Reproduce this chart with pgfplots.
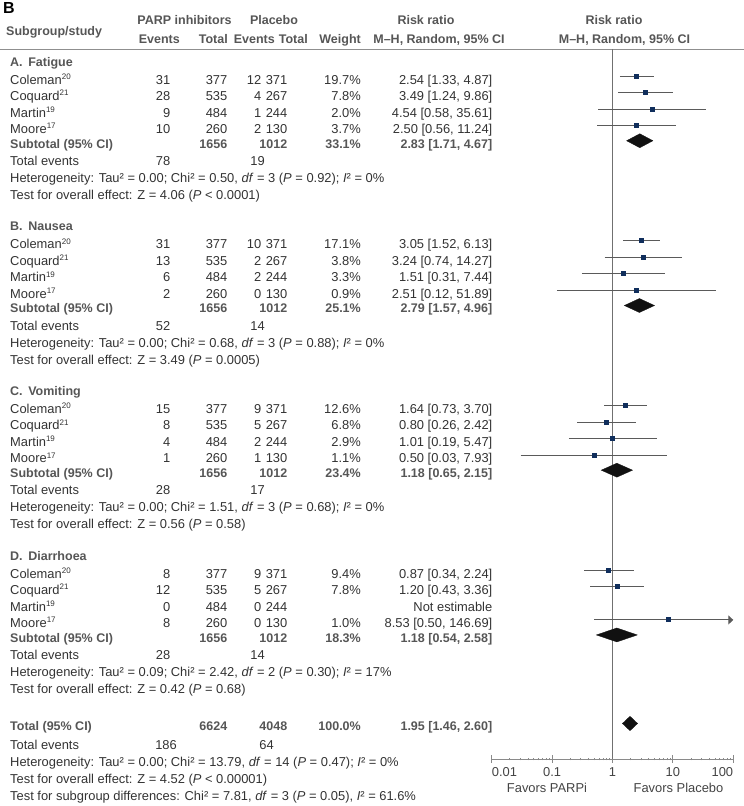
\documentclass[border=0pt]{standalone}
\usepackage{pgfplots}
\pgfplotsset{compat=1.18}
\usepackage{pgfplotstable}
\usepackage{fontspec}
\setmainfont{Liberation Sans}
\usetikzlibrary{arrows.meta}
\definecolor{txt}{HTML}{333333}
\definecolor{hdr}{HTML}{565656}
\definecolor{navy}{HTML}{102E5C}
\definecolor{cil}{HTML}{5A5A5A}
\definecolor{vline}{HTML}{707070}
\definecolor{axg}{HTML}{8A8A8A}
\definecolor{sepg}{HTML}{8F8F8F}
\definecolor{dia}{HTML}{111111}
\definecolor{tick}{HTML}{444444}

\newcommand\sups[1]{\raisebox{0.36em}{\fontsize{8}{8}\selectfont #1}}
\newcommand\TL[3]{\node[anchor=base west,inner sep=0pt] at (#1,#2+4.6) {#3};}
\newcommand\TR[3]{\node[anchor=base east,inner sep=0pt] at (#1,#2+4.6) {#3};}
\newcommand\TC[3]{\node[anchor=base,inner sep=0pt] at (#1,#2+4.6) {#3};}
\newcommand\HB{\color{hdr}\fontsize{12.5}{15}\selectfont\bfseries}
\newcommand\Row[9]{\TL{10}{#1}{#2\sups{#3}}\TR{170.5}{#1}{#4}\TR{227.5}{#1}{#5}\TR{261.5}{#1}{#6}\TR{287.5}{#1}{#7}\TR{361}{#1}{#8}\TR{492.5}{#1}{#9}}
\newcommand\Sub[6]{\TL{10}{#1}{\HB #6}\TR{227.5}{#1}{\HB #2}\TR{287.5}{#1}{\HB #3}\TR{361}{#1}{\HB #4}\TR{492.5}{#1}{\HB #5}}
\newcommand\TE[3]{\TL{10}{#1}{Total events}\TR{170.5}{#1}{#2}\TR{265}{#1}{#3}}
\newcommand\Het[6]{\TL{10}{#1}{Heterogeneity: Tau² = #2; Chi² = #3, \textit{df} = #4 (\textit{P} = #5); \textit{I}² = #6}}
\newcommand\Ovr[2]{\TL{10}{#1}{Test for overall effect: Z = #2}}

\pgfplotstableread{
y est ms
-76.5 2.54 3.2
-93 3.49 2.0
-109.5 4.54 1.25
-126 2.50 1.45
-241.2 3.05 3.0
-257.7 3.24 1.45
-274.2 1.51 1.35
-290.7 2.51 1.15
-405.8 1.64 2.55
-422.3 0.80 1.9
-438.8 1.01 1.25
-455.3 0.50 1.15
-570.5 0.87 2.2
-587 1.20 2.0
-620 8.53 1.15
}\studies

\pgfplotstableread{
x y
1.33 -76.5
4.87 -76.5
nan nan
1.24 -93
9.86 -93
nan nan
0.58 -109.5
35.61 -109.5
nan nan
0.56 -126
11.24 -126
nan nan
1.52 -241.2
6.13 -241.2
nan nan
0.74 -257.7
14.27 -257.7
nan nan
0.31 -274.2
7.44 -274.2
nan nan
0.12 -290.7
51.89 -290.7
nan nan
0.73 -405.8
3.70 -405.8
nan nan
0.26 -422.3
2.42 -422.3
nan nan
0.19 -438.8
5.47 -438.8
nan nan
0.03 -455.3
7.93 -455.3
nan nan
0.34 -570.5
2.24 -570.5
nan nan
0.43 -587
3.36 -587
}\cilines

\begin{document}
\fontsize{12.9}{15}\selectfont
\begin{tikzpicture}
\path[use as bounding box] (0,0) rectangle (744pt,-806pt);
\begin{scope}[x=1pt,y=-1pt,every node/.style={text=txt}]
% header
\node[anchor=base west,inner sep=0pt,text=black] at (3,13.4) {\fontsize{16}{16}\selectfont\bfseries B};
\TL{6}{30.5}{\HB Subgroup/study}
\TC{184.5}{20}{\HB PARP inhibitors}
\TC{274}{20}{\HB Placebo}
\TR{180}{39}{\HB Events}
\TR{228}{39}{\HB Total}
\TR{275}{39}{\HB Events}
\TR{308}{39}{\HB Total}
\TR{361}{39}{\HB Weight}
\TC{426}{20}{\HB Risk ratio}
\TC{439}{39}{\HB M–H, Random, 95\% CI}
\TC{614}{20}{\HB Risk ratio}
\TC{624.5}{39}{\HB M–H, Random, 95\% CI}
\draw[sepg,line width=1.5pt] (0,49.3) -- (744,49.3);
% A
\TL{10}{61.5}{\HB A.\hspace{0.45em}Fatigue}
\Row{79.5}{Coleman}{20}{31}{377}{12}{371}{19.7\%}{2.54 [1.33, 4.87]}
\Row{96}{Coquard}{21}{28}{535}{4}{267}{7.8\%}{3.49 [1.24, 9.86]}
\Row{112.5}{Martin}{19}{9}{484}{1}{244}{2.0\%}{4.54 [0.58, 35.61]}
\Row{129}{Moore}{17}{10}{260}{2}{130}{3.7\%}{2.50 [0.56, 11.24]}
\Sub{143.5}{1656}{1012}{33.1\%}{2.83 [1.71, 4.67]}{Subtotal (95\% CI)}
\TE{161}{78}{19}
\Het{178}{0.00}{0.50}{3}{0.92}{0\%}
\Ovr{195}{4.06 (\textit{P} < 0.0001)}
% B
\TL{10}{226.2}{\HB B.\hspace{0.45em}Nausea}
\Row{244.2}{Coleman}{20}{31}{377}{10}{371}{17.1\%}{3.05 [1.52, 6.13]}
\Row{260.7}{Coquard}{21}{13}{535}{2}{267}{3.8\%}{3.24 [0.74, 14.27]}
\Row{277.2}{Martin}{19}{6}{484}{2}{244}{3.3\%}{1.51 [0.31, 7.44]}
\Row{293.7}{Moore}{17}{2}{260}{0}{130}{0.9\%}{2.51 [0.12, 51.89]}
\Sub{308.2}{1656}{1012}{25.1\%}{2.79 [1.57, 4.96]}{Subtotal (95\% CI)}
\TE{325.7}{52}{14}
\Het{342.7}{0.00}{0.68}{3}{0.88}{0\%}
\Ovr{359.7}{3.49 (\textit{P} = 0.0005)}
% C
\TL{10}{390.8}{\HB C.\hspace{0.45em}Vomiting}
\Row{408.8}{Coleman}{20}{15}{377}{9}{371}{12.6\%}{1.64 [0.73, 3.70]}
\Row{425.3}{Coquard}{21}{8}{535}{5}{267}{6.8\%}{0.80 [0.26, 2.42]}
\Row{441.8}{Martin}{19}{4}{484}{2}{244}{2.9\%}{1.01 [0.19, 5.47]}
\Row{458.3}{Moore}{17}{1}{260}{1}{130}{1.1\%}{0.50 [0.03, 7.93]}
\Sub{472.8}{1656}{1012}{23.4\%}{1.18 [0.65, 2.15]}{Subtotal (95\% CI)}
\TE{490.3}{28}{17}
\Het{507.3}{0.00}{1.51}{3}{0.68}{0\%}
\Ovr{524.3}{0.56 (\textit{P} = 0.58)}
% D
\TL{10}{555.5}{\HB D.\hspace{0.45em}Diarrhoea}
\Row{573.5}{Coleman}{20}{8}{377}{9}{371}{9.4\%}{0.87 [0.34, 2.24]}
\Row{590}{Coquard}{21}{12}{535}{5}{267}{7.8\%}{1.20 [0.43, 3.36]}
\Row{606.5}{Martin}{19}{0}{484}{0}{244}{}{Not estimable}
\Row{623}{Moore}{17}{8}{260}{0}{130}{1.0\%}{8.53 [0.50, 146.69]}
\Sub{637.5}{1656}{1012}{18.3\%}{1.18 [0.54, 2.58]}{Subtotal (95\% CI)}
\TE{655}{28}{14}
\Het{672}{0.09}{2.42}{2}{0.30}{17\%}
\Ovr{689}{0.42 (\textit{P} = 0.68)}
% Total
\Sub{726}{6624}{4048}{100.0\%}{1.95 [1.46, 2.60]}{Total (95\% CI)}
\TL{10}{745}{Total events}\TR{177}{745}{186}\TR{274}{745}{64}
\Het{762}{0.00}{13.79}{14}{0.47}{0\%}
\Ovr{779}{4.52 (\textit{P} < 0.00001)}
\TL{10}{796}{Test for subgroup differences: Chi² = 7.81, \textit{df} = 3 (\textit{P} = 0.05), \textit{I}² = 61.6\%}
% axis labels
\TC{547}{788.3}{\color{tick}Favors PARPi}
\TC{678.5}{788.3}{\color{tick}Favors Placebo}
\end{scope}

\begin{axis}[
  at={(491.7pt,-759pt)}, anchor=south west,
  scale only axis, width=241.6pt, height=710pt,
  xmode=log, xmin=0.01, xmax=100, ymin=-759, ymax=-49.3,
  axis x line=bottom, hide y axis,
  x axis line style={-, draw=axg, line width=1pt},
  xtick={0.01,0.1,1,10,100}, xticklabels=\empty, minor xtick={},
  xtick align=center, major tick length=7.4pt,
  every tick/.style={draw=axg, line width=1pt},
  clip=false, unbounded coords=jump,
]
\addplot[vline, line width=1pt] coordinates {(1,-49.3) (1,-759)};
\addplot[cil, line width=1pt] table[x=x,y=y] \cilines;
\addplot[cil, line width=1pt, -{Triangle[length=5pt,width=9pt]}] coordinates {(0.50,-620) (100,-620)};
\addplot[scatter, only marks, mark=square*,
  visualization depends on={\thisrow{ms} \as \perpointmarksize},
  scatter/@pre marker code/.append style={/tikz/mark size=\perpointmarksize},
  scatter/use mapped color={draw=navy, fill=navy},
  mark options={line width=0pt}] table[x=est,y=y] \studies;
% diamonds
\addplot[fill=dia, draw=dia, line width=0.3pt] coordinates {(1.71,-141) (2.83,-134) (4.67,-141) (2.83,-148)} -- cycle;
\addplot[fill=dia, draw=dia, line width=0.3pt] coordinates {(1.57,-305.7) (2.79,-298.7) (4.96,-305.7) (2.79,-312.7)} -- cycle;
\addplot[fill=dia, draw=dia, line width=0.3pt] coordinates {(0.65,-470.3) (1.18,-463.3) (2.15,-470.3) (1.18,-477.3)} -- cycle;
\addplot[fill=dia, draw=dia, line width=0.3pt] coordinates {(0.54,-635) (1.18,-628) (2.58,-635) (1.18,-642)} -- cycle;
\addplot[fill=dia, draw=dia, line width=0.3pt] coordinates {(1.46,-723.5) (1.95,-716.3) (2.60,-723.5) (1.95,-730.7)} -- cycle;
% tick labels
\node[anchor=base west,inner sep=0pt,text=tick] at (axis cs:0.01,-776.3) {0.01};
\node[anchor=base,inner sep=0pt,text=tick] at (axis cs:0.1,-776.3) {0.1};
\node[anchor=base,inner sep=0pt,text=tick] at (axis cs:1,-776.3) {1};
\node[anchor=base,inner sep=0pt,text=tick] at (axis cs:10,-776.3) {10};
\node[anchor=base east,inner sep=0pt,text=tick] at (axis cs:100,-776.3) {100};
\end{axis}
\end{tikzpicture}
\end{document}
